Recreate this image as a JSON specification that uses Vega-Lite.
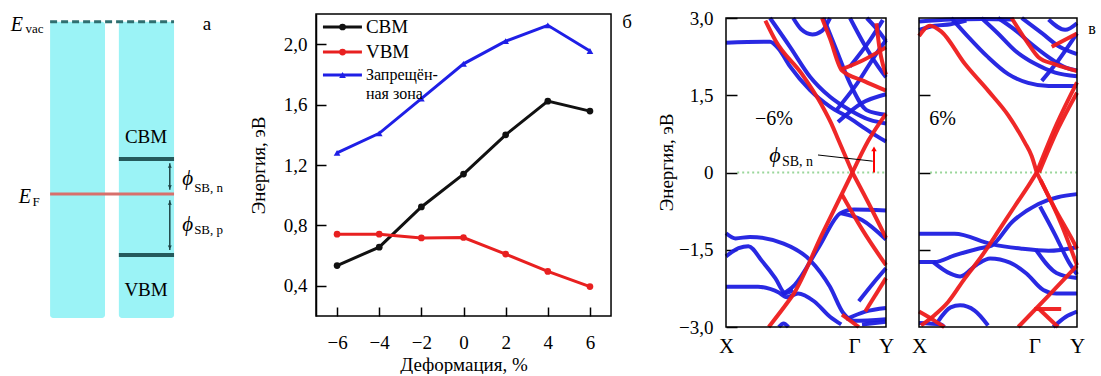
{
"$schema":"https://vega.github.io/schema/vega-lite/v6.json",
"background":"white",
"padding":{"left":0,"top":9,"right":0,"bottom":0},
"spacing":33,
"bounds":"flush",
"config":{"view":{"stroke":null},"font":"Liberation Serif","text":{"font":"Liberation Serif"},"axis":{"grid":false,"labelColor":"black","titleColor":"black","domainColor":"black","tickColor":"black","titleFontWeight":"normal","labelFont":"Liberation Serif","titleFont":"Liberation Serif"}},
"datasets":{
"bandsL":[
{"b":"B1","c":"b","k":0,"e":2.52},{"b":"B1","c":"b","k":0.275,"e":2.54},{"b":"B1","c":"b","k":0.327,"e":2.41},{"b":"B1","c":"b","k":0.4,"e":2.06},{"b":"B1","c":"b","k":0.525,"e":1.6},{"b":"B1","c":"b","k":0.65,"e":1.28},{"b":"B1","c":"b","k":0.775,"e":1.05},{"b":"B1","c":"b","k":0.9,"e":0.79},{"b":"B1","c":"b","k":1,"e":0.6},
{"b":"B2","c":"b","k":0.275,"e":3.0},{"b":"B2","c":"b","k":0.4,"e":2.44},{"b":"B2","c":"b","k":0.525,"e":1.86},{"b":"B2","c":"b","k":0.65,"e":1.47},{"b":"B2","c":"b","k":0.775,"e":1.21},{"b":"B2","c":"b","k":0.9,"e":1.02},{"b":"B2","c":"b","k":1,"e":0.95},
{"b":"B3","c":"b","k":0.42,"e":3.0},{"b":"B3","c":"b","k":0.47,"e":2.78},{"b":"B3","c":"b","k":0.54,"e":2.68},{"b":"B3","c":"b","k":0.6,"e":2.75},{"b":"B3","c":"b","k":0.65,"e":3.0},
{"b":"B4","c":"b","k":0.61,"e":3.0},{"b":"B4","c":"b","k":0.69,"e":2.38},{"b":"B4","c":"b","k":0.775,"e":1.73},{"b":"B4","c":"b","k":0.88,"e":1.21},{"b":"B4","c":"b","k":1,"e":1.12},
{"b":"B5","c":"b","k":0.775,"e":3.0},{"b":"B5","c":"b","k":0.86,"e":2.51},{"b":"B5","c":"b","k":0.98,"e":1.93},{"b":"B5","c":"b","k":1,"e":1.85},
{"b":"B6","c":"b","k":0.88,"e":3.0},{"b":"B6","c":"b","k":0.98,"e":2.64},{"b":"B6","c":"b","k":1,"e":2.55},
{"b":"B7","c":"b","k":0.69,"e":1.21},{"b":"B7","c":"b","k":0.82,"e":1.73},{"b":"B7","c":"b","k":0.94,"e":2.31},{"b":"B7","c":"b","k":1,"e":2.57},
{"b":"B8","c":"b","k":0.775,"e":2.06},{"b":"B8","c":"b","k":0.9,"e":2.57},{"b":"B8","c":"b","k":0.98,"e":2.96},
{"b":"B9","c":"b","k":0.7,"e":0.98},{"b":"B9","c":"b","k":0.85,"e":1.35},{"b":"B9","c":"b","k":1,"e":1.52},
{"b":"B10","c":"b","k":0.35,"e":-2.37},{"b":"B10","c":"b","k":0.43,"e":-2.18},{"b":"B10","c":"b","k":0.58,"e":-1.45},{"b":"B10","c":"b","k":0.715,"e":-0.79},{"b":"B10","c":"b","k":0.8,"e":-0.72},{"b":"B10","c":"b","k":1,"e":-0.74},
{"b":"B11","c":"b","k":0.72,"e":-0.79},{"b":"B11","c":"b","k":0.85,"e":-0.92},{"b":"B11","c":"b","k":1,"e":-1.3},
{"b":"B12","c":"b","k":0,"e":-1.18},{"b":"B12","c":"b","k":0.06,"e":-1.28},{"b":"B12","c":"b","k":0.15,"e":-1.25},{"b":"B12","c":"b","k":0.36,"e":-1.38},{"b":"B12","c":"b","k":0.525,"e":-1.7},{"b":"B12","c":"b","k":0.65,"e":-2.22},{"b":"B12","c":"b","k":0.733,"e":-2.73},{"b":"B12","c":"b","k":0.8,"e":-2.88},{"b":"B12","c":"b","k":1,"e":-2.85},
{"b":"B13","c":"b","k":0,"e":-1.63},{"b":"B13","c":"b","k":0.079,"e":-1.47},{"b":"B13","c":"b","k":0.14,"e":-1.43},{"b":"B13","c":"b","k":0.225,"e":-1.72},{"b":"B13","c":"b","k":0.308,"e":-2.05},{"b":"B13","c":"b","k":0.37,"e":-2.34},{"b":"B13","c":"b","k":0.42,"e":-2.28},
{"b":"B14","c":"b","k":0,"e":-2.22},{"b":"B14","c":"b","k":0.2,"e":-2.22},{"b":"B14","c":"b","k":0.33,"e":-2.33},{"b":"B14","c":"b","k":0.38,"e":-2.42},{"b":"B14","c":"b","k":0.45,"e":-2.35},{"b":"B14","c":"b","k":0.55,"e":-2.5},{"b":"B14","c":"b","k":0.65,"e":-2.8},{"b":"B14","c":"b","k":0.72,"e":-2.95},
{"b":"B15","c":"b","k":0.75,"e":-2.85},{"b":"B15","c":"b","k":0.87,"e":-2.7},{"b":"B15","c":"b","k":1,"e":-2.63},
{"b":"B16","c":"b","k":0.85,"e":-2.95},{"b":"B16","c":"b","k":1,"e":-2.9},
{"b":"B17","c":"b","k":0.83,"e":-2.5},{"b":"B17","c":"b","k":0.92,"e":-2.15},{"b":"B17","c":"b","k":1,"e":-1.86},
{"b":"B18","c":"b","k":0.33,"e":-3.0},{"b":"B18","c":"b","k":0.36,"e":-2.93},{"b":"B18","c":"b","k":0.39,"e":-3.0},
{"b":"R1","c":"r","k":0.267,"e":-3.0},{"b":"R1","c":"r","k":0.39,"e":-2.5},{"b":"R1","c":"r","k":0.42,"e":-2.37},{"b":"R1","c":"r","k":0.6,"e":-1.2},{"b":"R1","c":"r","k":0.79,"e":0},
{"b":"R2","c":"r","k":0.79,"e":0},{"b":"R2","c":"r","k":0.9,"e":-0.65},{"b":"R2","c":"r","k":1,"e":-1.27},
{"b":"R3","c":"r","k":0.725,"e":-0.43},{"b":"R3","c":"r","k":0.85,"e":-1.1},{"b":"R3","c":"r","k":1,"e":-1.8},
{"b":"R4","c":"r","k":0.79,"e":0},{"b":"R4","c":"r","k":0.89,"e":0.62},{"b":"R4","c":"r","k":1,"e":1.14},
{"b":"R5","c":"r","k":0.246,"e":2.95},{"b":"R5","c":"r","k":0.31,"e":2.56},{"b":"R5","c":"r","k":0.475,"e":1.91},{"b":"R5","c":"r","k":0.6,"e":1.3},{"b":"R5","c":"r","k":0.66,"e":0.94},{"b":"R5","c":"r","k":0.704,"e":0.62},{"b":"R5","c":"r","k":0.79,"e":0},
{"b":"R6","c":"r","k":0.6,"e":3.0},{"b":"R6","c":"r","k":0.65,"e":2.6},{"b":"R6","c":"r","k":0.725,"e":1.98},{"b":"R6","c":"r","k":0.86,"e":1.78},{"b":"R6","c":"r","k":1,"e":1.59},
{"b":"R7","c":"r","k":0.72,"e":2.0},{"b":"R7","c":"r","k":0.85,"e":2.17},{"b":"R7","c":"r","k":1,"e":2.43},
{"b":"R8","c":"r","k":0.94,"e":2.9},{"b":"R8","c":"r","k":0.96,"e":2.4},{"b":"R8","c":"r","k":0.98,"e":2.1},{"b":"R8","c":"r","k":1,"e":1.9},
{"b":"R9","c":"r","k":0.87,"e":-2.7},{"b":"R9","c":"r","k":1,"e":-2.05},
{"b":"R10","c":"r","k":0.725,"e":-2.76},{"b":"R10","c":"r","k":0.83,"e":-3.0}
],
"bandsR":[
{"b":"B1","c":"b","k":0,"e":2.93},{"b":"B1","c":"b","k":0.2,"e":2.97},{"b":"B1","c":"b","k":0.4,"e":2.98},{"b":"B1","c":"b","k":0.6,"e":2.97},
{"b":"B2","c":"b","k":0,"e":2.77},{"b":"B2","c":"b","k":0.1,"e":2.85},{"b":"B2","c":"b","k":0.2,"e":2.88},{"b":"B2","c":"b","k":0.3,"e":2.95},
{"b":"B3","c":"b","k":0.204,"e":3.0},{"b":"B3","c":"b","k":0.31,"e":2.64},{"b":"B3","c":"b","k":0.437,"e":2.24},{"b":"B3","c":"b","k":0.565,"e":1.91},{"b":"B3","c":"b","k":0.69,"e":1.74},{"b":"B3","c":"b","k":0.82,"e":1.68},{"b":"B3","c":"b","k":1,"e":1.68},
{"b":"B4","c":"b","k":0.395,"e":3.0},{"b":"B4","c":"b","k":0.5,"e":2.7},{"b":"B4","c":"b","k":0.607,"e":2.37},{"b":"B4","c":"b","k":0.735,"e":2.11},{"b":"B4","c":"b","k":0.862,"e":1.94},{"b":"B4","c":"b","k":1,"e":1.87},
{"b":"B5","c":"b","k":0.5,"e":3.0},{"b":"B5","c":"b","k":0.607,"e":2.77},{"b":"B5","c":"b","k":0.71,"e":2.5},{"b":"B5","c":"b","k":0.82,"e":2.24},{"b":"B5","c":"b","k":0.925,"e":2.04},{"b":"B5","c":"b","k":1,"e":1.98},
{"b":"B6","c":"b","k":0.65,"e":3.0},{"b":"B6","c":"b","k":0.78,"e":2.7},{"b":"B6","c":"b","k":0.89,"e":2.44},{"b":"B6","c":"b","k":1,"e":2.3},
{"b":"B7","c":"b","k":0.777,"e":1.78},{"b":"B7","c":"b","k":0.883,"e":2.18},{"b":"B7","c":"b","k":1,"e":2.7},
{"b":"B8","c":"b","k":0.82,"e":2.97},{"b":"B8","c":"b","k":0.925,"e":2.77},{"b":"B8","c":"b","k":1,"e":2.9},
{"b":"B9","c":"b","k":0,"e":-1.19},{"b":"B9","c":"b","k":0.225,"e":-1.19},{"b":"B9","c":"b","k":0.459,"e":-1.39},{"b":"B9","c":"b","k":0.65,"e":-1.48},{"b":"B9","c":"b","k":0.82,"e":-1.52},{"b":"B9","c":"b","k":1,"e":-1.45},
{"b":"B10","c":"b","k":0,"e":-1.74},{"b":"B10","c":"b","k":0.098,"e":-1.74},{"b":"B10","c":"b","k":0.225,"e":-1.61},{"b":"B10","c":"b","k":0.374,"e":-1.48},{"b":"B10","c":"b","k":0.459,"e":-1.42},{"b":"B10","c":"b","k":0.586,"e":-0.97},{"b":"B10","c":"b","k":0.756,"e":-0.61},{"b":"B10","c":"b","k":1,"e":-0.42},
{"b":"B11","c":"b","k":0.09,"e":-1.74},{"b":"B11","c":"b","k":0.196,"e":-1.96},{"b":"B11","c":"b","k":0.26,"e":-2.02},{"b":"B11","c":"b","k":0.365,"e":-1.79},{"b":"B11","c":"b","k":0.45,"e":-1.67},{"b":"B11","c":"b","k":0.576,"e":-1.75},{"b":"B11","c":"b","k":0.68,"e":-1.96},{"b":"B11","c":"b","k":0.787,"e":-2.28},{"b":"B11","c":"b","k":0.87,"e":-2.35},{"b":"B11","c":"b","k":1,"e":-2.35},
{"b":"B12","c":"b","k":0.766,"e":-0.66},{"b":"B12","c":"b","k":0.86,"e":-1.2},{"b":"B12","c":"b","k":0.95,"e":-1.75},{"b":"B12","c":"b","k":1,"e":-1.98},
{"b":"B13","c":"b","k":0.74,"e":-1.5},{"b":"B13","c":"b","k":0.87,"e":-1.95},{"b":"B13","c":"b","k":1,"e":-2.05},
{"b":"B14","c":"b","k":0,"e":-2.92},{"b":"B14","c":"b","k":0.14,"e":-2.95},{"b":"B14","c":"b","k":0.16,"e":-3.0},
{"b":"B15","c":"b","k":0.119,"e":-2.9},{"b":"B15","c":"b","k":0.2,"e":-2.62},{"b":"B15","c":"b","k":0.26,"e":-2.58},{"b":"B15","c":"b","k":0.352,"e":-2.68},{"b":"B15","c":"b","k":0.437,"e":-2.97},
{"b":"B16","c":"b","k":0.85,"e":-3.0},{"b":"B16","c":"b","k":0.93,"e":-2.8},{"b":"B16","c":"b","k":1,"e":-2.7},
{"b":"R1","c":"r","k":0,"e":2.65},{"b":"R1","c":"r","k":0.07,"e":2.85},{"b":"R1","c":"r","k":0.14,"e":2.74},{"b":"R1","c":"r","k":0.29,"e":2.11},{"b":"R1","c":"r","k":0.44,"e":1.58},{"b":"R1","c":"r","k":0.565,"e":1.11},{"b":"R1","c":"r","k":0.67,"e":0.58},{"b":"R1","c":"r","k":0.713,"e":0.32},{"b":"R1","c":"r","k":0.745,"e":0},
{"b":"R2","c":"r","k":0.745,"e":0},{"b":"R2","c":"r","k":0.87,"e":0.93},{"b":"R2","c":"r","k":1,"e":1.75},
{"b":"R2b","c":"r","k":0.76,"e":0},{"b":"R2b","c":"r","k":0.88,"e":0.85},{"b":"R2b","c":"r","k":1,"e":1.55},
{"b":"R3","c":"r","k":0.586,"e":3.0},{"b":"R3","c":"r","k":0.692,"e":2.5},{"b":"R3","c":"r","k":0.756,"e":2.24},{"b":"R3","c":"r","k":0.862,"e":2.1},{"b":"R3","c":"r","k":1,"e":1.97},
{"b":"R4","c":"r","k":0.84,"e":2.44},{"b":"R4","c":"r","k":1,"e":2.7},
{"b":"R5","c":"r","k":0.013,"e":-2.97},{"b":"R5","c":"r","k":0.098,"e":-2.77},{"b":"R5","c":"r","k":0.183,"e":-2.52},{"b":"R5","c":"r","k":0.289,"e":-2.06},{"b":"R5","c":"r","k":0.395,"e":-1.63},{"b":"R5","c":"r","k":0.5,"e":-1.15},{"b":"R5","c":"r","k":0.607,"e":-0.65},{"b":"R5","c":"r","k":0.69,"e":-0.27},{"b":"R5","c":"r","k":0.745,"e":0},
{"b":"R6","c":"r","k":0,"e":-2.7},{"b":"R6","c":"r","k":0.1,"e":-2.88},{"b":"R6","c":"r","k":0.16,"e":-3.0},
{"b":"R7","c":"r","k":0.745,"e":0},{"b":"R7","c":"r","k":0.862,"e":-0.71},{"b":"R7","c":"r","k":0.968,"e":-1.29},{"b":"R7","c":"r","k":1,"e":-1.48},
{"b":"R8","c":"r","k":0.77,"e":-0.15},{"b":"R8","c":"r","k":0.9,"e":-1.0},{"b":"R8","c":"r","k":1,"e":-1.8},
{"b":"R9","c":"r","k":0.628,"e":-3.0},{"b":"R9","c":"r","k":0.82,"e":-2.39},{"b":"R9","c":"r","k":1,"e":-1.81},
{"b":"R10","c":"r","k":0.73,"e":-2.65},{"b":"R10","c":"r","k":0.9,"e":-2.65},
{"b":"R11","c":"r","k":0.76,"e":-2.65},{"b":"R11","c":"r","k":0.88,"e":-3.0}
]
},
"hconcat":[
{
"width":283,"height":313,
"encoding":{
"x":{"field":"x","type":"quantitative","scale":{"domain":[0,10],"nice":false,"zero":false},"axis":null},
"y":{"field":"y","type":"quantitative","scale":{"domain":[-1.9,2.571],"nice":false,"zero":false},"axis":null}
},
"layer":[
{"data":{"values":[{"x":1.77,"x2":3.71,"y":-1.77,"y2":2.46},{"x":4.2,"x2":6.15,"y":-1.77,"y2":2.46}]},"mark":{"type":"rect","color":"#9bf3f6","cornerRadius":3},"encoding":{"x2":{"field":"x2"},"y2":{"field":"y2"}}},
{"data":{"values":[{"x":1.77,"x2":6.15,"y":2.46}]},"mark":{"type":"rule","color":"#2f6f70","strokeWidth":3,"strokeDash":[7,4]},"encoding":{"x2":{"field":"x2"}}},
{"data":{"values":[{"x":1.77,"x2":6.15,"y":0}]},"mark":{"type":"rule","color":"#d8706c","strokeWidth":3},"encoding":{"x2":{"field":"x2"}}},
{"data":{"values":[{"x":4.2,"x2":6.15,"y":0.5},{"x":4.2,"x2":6.15,"y":-0.87}]},"mark":{"type":"rule","color":"#245a5c","strokeWidth":4},"encoding":{"x2":{"field":"x2"}}},
{"data":{"values":[{"x":6.0,"y":0.44,"y2":0.06},{"x":6.0,"y":-0.09,"y2":-0.8}]},"mark":{"type":"rule","color":"#1d4446","strokeWidth":1.5},"encoding":{"y2":{"field":"y2"}}},
{"data":{"values":[{"x":6.0,"y":0.4},{"x":6.0,"y":-0.13}]},"mark":{"type":"point","shape":"triangle-up","filled":true,"size":16,"color":"#1d4446","opacity":1}},
{"data":{"values":[{"x":6.0,"y":0.1},{"x":6.0,"y":-0.76}]},"mark":{"type":"point","shape":"triangle-down","filled":true,"size":16,"color":"#1d4446","opacity":1}},
{"data":{"values":[{"x":0.6,"y":2.41,"t":"E"},{"x":0.88,"y":-0.043,"t":"E"}]},"mark":{"type":"text","font":"Liberation Serif","fontStyle":"italic","fontSize":20,"baseline":"middle","align":"center","color":"black"},"encoding":{"text":{"field":"t"}}},
{"data":{"values":[{"x":6.63,"y":0.21,"t":"ϕ"},{"x":6.63,"y":-0.44,"t":"ϕ"}]},"mark":{"type":"text","font":"Liberation Serif","fontStyle":"italic","fontSize":21,"baseline":"middle","align":"center","color":"black"},"encoding":{"text":{"field":"t"}}},
{"data":{"values":[{"x":0.9,"y":2.36,"t":"vac"},{"x":1.15,"y":-0.114,"t":"F"},{"x":6.86,"y":0.08,"t":"SB, n"},{"x":6.86,"y":-0.52,"t":"SB, p"}]},"mark":{"type":"text","font":"Liberation Serif","fontSize":13,"baseline":"middle","align":"left","color":"black"},"encoding":{"text":{"field":"t"}}},
{"data":{"values":[{"x":5.16,"y":0.814,"t":"CBM"},{"x":5.16,"y":-1.371,"t":"VBM"},{"x":7.31,"y":2.43,"t":"а"}]},"mark":{"type":"text","font":"Liberation Serif","fontSize":19,"baseline":"middle","align":"center","color":"black"},"encoding":{"text":{"field":"t"}}}
]
},
{
"width":377,"height":302,
"encoding":{
"x":{"field":"x","type":"quantitative","scale":{"domain":[-7,10.89],"nice":false,"zero":false},
"axis":{"values":[-6,-4,-2,0,2,4,6],"domain":false,"tickSize":-9,"tickWidth":1.5,"labelFontSize":19,"labelPadding":26,"title":"Деформация, %","titleFontSize":19,"titleX":147.5,"titleY":54,"titleBaseline":"alphabetic","titleAlign":"center","titleAnchor":"start"}},
"y":{"field":"y","type":"quantitative","scale":{"domain":[0.2,2.2],"nice":false,"zero":false},
"axis":{"values":[0.4,0.8,1.2,1.6,2.0],"labelExpr":"replace(format(datum.value, '.1f'), '.', ',')","domainWidth":1.5,"tickSize":-10,"tickWidth":1.5,"labelFontSize":19,"labelPadding":19,"title":"Энергия, эВ","titleFontSize":19,"titleX":-57.5,"titleY":151,"titleAngle":-90,"titleBaseline":"middle","titleAlign":"center"}}
},
"layer":[
{"data":{"values":[{"x":-7,"x2":7,"y":0.2,"y2":2.2}]},"mark":{"type":"rect","fillOpacity":0,"stroke":"black","strokeWidth":1.5},"encoding":{"x2":{"field":"x2"},"y2":{"field":"y2"}}},
{"data":{"name":"lines","values":[
{"x":-6,"y":0.534,"s":"CBM"},{"x":-4,"y":0.656,"s":"CBM"},{"x":-2,"y":0.922,"s":"CBM"},{"x":0,"y":1.14,"s":"CBM"},{"x":2,"y":1.4,"s":"CBM"},{"x":4,"y":1.623,"s":"CBM"},{"x":6,"y":1.557,"s":"CBM"},
{"x":-6,"y":0.742,"s":"VBM"},{"x":-4,"y":0.742,"s":"VBM"},{"x":-2,"y":0.717,"s":"VBM"},{"x":0,"y":0.72,"s":"VBM"},{"x":2,"y":0.61,"s":"VBM"},{"x":4,"y":0.495,"s":"VBM"},{"x":6,"y":0.395,"s":"VBM"},
{"x":-6,"y":1.28,"s":"gap"},{"x":-4,"y":1.41,"s":"gap"},{"x":-2,"y":1.64,"s":"gap"},{"x":0,"y":1.87,"s":"gap"},{"x":2,"y":2.02,"s":"gap"},{"x":4,"y":2.125,"s":"gap"},{"x":6,"y":1.955,"s":"gap"}]},
"layer":[
{"mark":{"type":"line","strokeWidth":3},"encoding":{"color":{"field":"s","type":"nominal","scale":{"domain":["CBM","VBM","gap"],"range":["#111111","#e82020","#1f1fe6"]},"legend":null}}},
{"mark":{"type":"point","filled":true,"size":45,"opacity":1},"encoding":{"color":{"field":"s","type":"nominal","legend":null},"shape":{"field":"s","type":"nominal","scale":{"domain":["CBM","VBM","gap"],"range":["circle","circle","triangle-up"]},"legend":null}}}
]},
{"data":{"values":[{"x":-6.67,"x2":-4.82,"xm":-5.74,"y":2.114,"s":"CBM"},{"x":-6.67,"x2":-4.82,"xm":-5.74,"y":1.948,"s":"VBM"},{"x":-6.67,"x2":-4.82,"xm":-5.74,"y":1.796,"s":"gap"}]},
"layer":[
{"mark":{"type":"rule","strokeWidth":3},"encoding":{"x2":{"field":"x2"},"color":{"field":"s","type":"nominal","legend":null}}},
{"mark":{"type":"point","filled":true,"size":45,"opacity":1},"encoding":{"x":{"field":"xm","type":"quantitative"},"color":{"field":"s","type":"nominal","legend":null},"shape":{"field":"s","type":"nominal","legend":null}}}
]},
{"data":{"values":[{"x":-4.63,"y":2.114,"t":"CBM"},{"x":-4.63,"y":1.948,"t":"VBM"}]},"mark":{"type":"text","font":"Liberation Serif","fontSize":19,"align":"left","baseline":"middle","color":"black"},"encoding":{"text":{"field":"t"}}},
{"data":{"values":[{"x":-4.63,"y":1.796,"t":"Запрещён-"},{"x":-4.63,"y":1.667,"t":"ная зона"}]},"mark":{"type":"text","font":"Liberation Serif","fontSize":16,"align":"left","baseline":"middle","color":"black"},"encoding":{"text":{"field":"t"}}},
{"data":{"values":[{"x":7.76,"y":2.147,"t":"б"}]},"mark":{"type":"text","font":"Liberation Serif","fontSize":19,"align":"center","baseline":"middle","color":"black"},"encoding":{"text":{"field":"t"}}}
]
},
{
"width":160,"height":313,
"encoding":{
"x":{"field":"k","type":"quantitative","scale":{"domain":[0,1],"nice":false,"zero":false},
"axis":{"values":[0,0.8,1],"labelExpr":"datum.value == 0 ? 'X' : (datum.value == 1 ? 'Y' : 'Γ')","domain":false,"ticks":false,"labelFontSize":21,"labelPadding":8,"labelFlush":false,"title":null}},
"y":{"field":"e","type":"quantitative","scale":{"domain":[-3,3.0777],"nice":false,"zero":false},
"axis":{"values":[-3,-1.5,0,1.5,3],"labelExpr":"datum.value == 0 ? '0' : replace(format(datum.value, '.1f'), '.', ',')","domain":false,"tickSize":-11,"tickWidth":1.5,"labelFontSize":19,"labelPadding":24,"title":"Энергия, эВ","titleFontSize":19,"titleX":-59.5,"titleY":148,"titleAngle":-90,"titleBaseline":"middle","titleAlign":"center"}}
},
"layer":[
{"data":{"values":[{"k":0.07,"k2":1,"e":0}]},"mark":{"type":"rule","color":"#9ad69a","strokeWidth":2,"strokeDash":[2,3]},"encoding":{"x2":{"field":"k2"}}},
{"data":{"name":"bandsL"},"transform":[{"filter":"datum.c == 'b'"}],"mark":{"type":"line","interpolate":"monotone","strokeWidth":4,"color":"#1e1ee0","opacity":0.95},"encoding":{"detail":{"field":"b"}}},
{"data":{"name":"bandsL"},"transform":[{"filter":"datum.c == 'r'"}],"mark":{"type":"line","interpolate":"monotone","strokeWidth":4,"color":"#ee1c1c","opacity":0.95},"encoding":{"detail":{"field":"b"}}},
{"data":{"values":[{"k":0.575,"k2":0.917,"e":0.34,"e2":0.22}]},"mark":{"type":"rule","color":"black","strokeWidth":1},"encoding":{"x2":{"field":"k2"},"y2":{"field":"e2"}}},
{"data":{"values":[{"k":0.925,"e":0,"e2":0.42}]},"mark":{"type":"rule","color":"#ff0000","strokeWidth":2},"encoding":{"y2":{"field":"e2"}}},
{"data":{"values":[{"k":0.925,"e":0.46}]},"mark":{"type":"point","shape":"triangle-up","filled":true,"size":30,"color":"#ff0000","opacity":1}},
{"data":{"values":[{"k":0.3,"e":1.04,"t":"−6%"}]},"mark":{"type":"text","font":"Liberation Serif","fontSize":20,"align":"center","baseline":"middle","color":"black"},"encoding":{"text":{"field":"t"}}},
{"data":{"values":[{"k":0.306,"e":0.34,"t":"ϕ"}]},"mark":{"type":"text","font":"Liberation Serif","fontSize":22,"fontStyle":"italic","align":"center","baseline":"middle","color":"black"},"encoding":{"text":{"field":"t"}}},
{"data":{"values":[{"k":0.35,"e":0.2,"t":"SB, n"}]},"mark":{"type":"text","font":"Liberation Serif","fontSize":14,"align":"left","baseline":"middle","color":"black"},"encoding":{"text":{"field":"t"}}},
{"data":{"values":[{"k":0,"k2":1,"e":-3,"e2":3}]},"mark":{"type":"rect","fillOpacity":0,"stroke":"black","strokeWidth":1.5},"encoding":{"x2":{"field":"k2"},"y2":{"field":"e2"}}}
]
},
{
"width":158,"height":313,
"encoding":{
"x":{"field":"k","type":"quantitative","scale":{"domain":[0,1],"nice":false,"zero":false},
"axis":{"values":[0,0.73,1],"labelExpr":"datum.value == 0 ? 'X' : (datum.value == 1 ? 'Y' : 'Γ')","domain":false,"ticks":false,"labelFontSize":21,"labelPadding":8,"labelFlush":false,"title":null}},
"y":{"field":"e","type":"quantitative","scale":{"domain":[-3,3.0777],"nice":false,"zero":false},
"axis":{"values":[-1.5,0,1.5],"labels":false,"domain":false,"tickSize":-11,"tickWidth":1.5,"title":null}}
},
"layer":[
{"data":{"values":[{"k":0.07,"k2":1,"e":0}]},"mark":{"type":"rule","color":"#9ad69a","strokeWidth":2,"strokeDash":[2,3]},"encoding":{"x2":{"field":"k2"}}},
{"data":{"name":"bandsR"},"transform":[{"filter":"datum.c == 'b'"}],"mark":{"type":"line","interpolate":"monotone","strokeWidth":4,"color":"#1e1ee0","opacity":0.95},"encoding":{"detail":{"field":"b"}}},
{"data":{"name":"bandsR"},"transform":[{"filter":"datum.c == 'r'"}],"mark":{"type":"line","interpolate":"monotone","strokeWidth":4,"color":"#ee1c1c","opacity":0.95},"encoding":{"detail":{"field":"b"}}},
{"data":{"values":[{"k":0.15,"e":1.04,"t":"6%"}]},"mark":{"type":"text","font":"Liberation Serif","fontSize":20,"align":"center","baseline":"middle","color":"black"},"encoding":{"text":{"field":"t"}}},
{"data":{"values":[{"k":1.095,"e":2.79,"t":"в"}]},"mark":{"type":"text","font":"Liberation Serif","fontSize":16,"align":"center","baseline":"middle","color":"black"},"encoding":{"text":{"field":"t"}}},
{"data":{"values":[{"k":0,"k2":1,"e":-3,"e2":3}]},"mark":{"type":"rect","fillOpacity":0,"stroke":"black","strokeWidth":1.5},"encoding":{"x2":{"field":"k2"},"y2":{"field":"e2"}}}
]
}
]
}
